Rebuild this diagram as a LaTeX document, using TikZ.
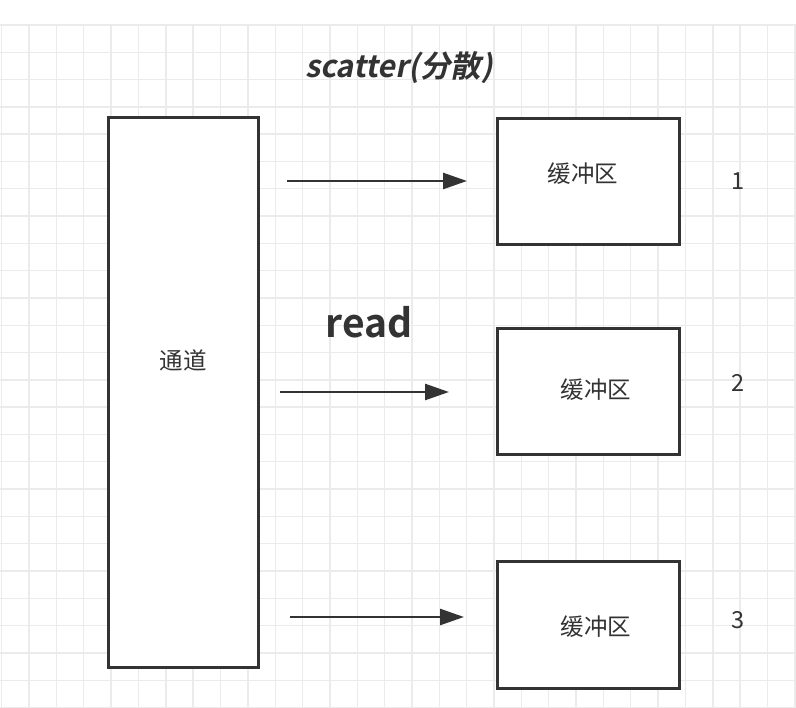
\documentclass[tikz,border=0pt]{standalone}
\usepackage{fontspec}
\setmainfont{Noto Sans CJK SC}
\newfontfamily\titlefont{Noto Sans CJK SC Bold}[FakeSlant=0.2]
\newfontfamily\boldfont{Noto Sans CJK SC Bold}
\usetikzlibrary{arrows.meta}

\definecolor{inkgray}{HTML}{333333}
\definecolor{gridgray}{HTML}{EBEBEB}

\tikzset{
  gridline/.style={draw=gridgray, line width=1.4pt},
  bufbox/.style={draw=inkgray, line width=3pt, fill=white, minimum width=182pt, minimum height=126pt, inner sep=0pt},
  chanbox/.style={draw=inkgray, line width=3pt, fill=white, minimum width=150pt, minimum height=549pt, inner sep=0pt},
  boxtext/.style={text=inkgray, font=\fontsize{23.5}{27}\selectfont},
  readarrow/.style={draw=inkgray, line width=2.6pt, -{Triangle[length=24pt, width=16pt]}},
}

\begin{document}
\begin{tikzpicture}[x=1pt,y=-1pt]
  \useasboundingbox (0,0) rectangle (796,708);
  \fill[white] (0,0) rectangle (796,708);

  % background grid
  \foreach \gx in {0,...,29}
    \draw[gridline] (1.7+27.35*\gx,25) -- (1.7+27.35*\gx,708);
  \foreach \gy in {0,...,25}
    \draw[gridline] (0,25+27.3*\gy) -- (796,25+27.3*\gy);

  \node[text=inkgray, font=\titlefont\fontsize{30.5}{34}\selectfont] (title) at (399,68) {scatter(分散)};

  % channel
  \node[chanbox] (chan) at (183,392.5) {};
  \node[boxtext] (chantext) at (183,360) {通道};

  % buffers
  \node[bufbox] (buf1) at (588,182) {};
  \node[bufbox] (buf2) at (588,392) {};
  \node[bufbox] (buf3) at (588,625) {};
  \node[boxtext] (buftext1) at (583,174) {缓冲区};
  \node[boxtext] (buftext2) at (596,390) {缓冲区};
  \node[boxtext] (buftext3) at (596,627) {缓冲区};

  \node[boxtext] (num1) at (738,181) {1};
  \node[boxtext] (num2) at (738,383) {2};
  \node[boxtext] (num3) at (738,620) {3};

  \node[text=inkgray, font=\boldfont\fontsize{39}{43}\selectfont] (readlabel) at (369,322) {read};

  % arrows
  \coordinate (a1s) at (287,181);
  \coordinate (a1e) at (467,181);
  \coordinate (a2s) at (280,392);
  \coordinate (a2e) at (449,392);
  \coordinate (a3s) at (290,617);
  \coordinate (a3e) at (464,617);
  \draw[readarrow] (a1s) -- (a1e);
  \draw[readarrow] (a2s) -- (a2e);
  \draw[readarrow] (a3s) -- (a3e);
\end{tikzpicture}
\end{document}
